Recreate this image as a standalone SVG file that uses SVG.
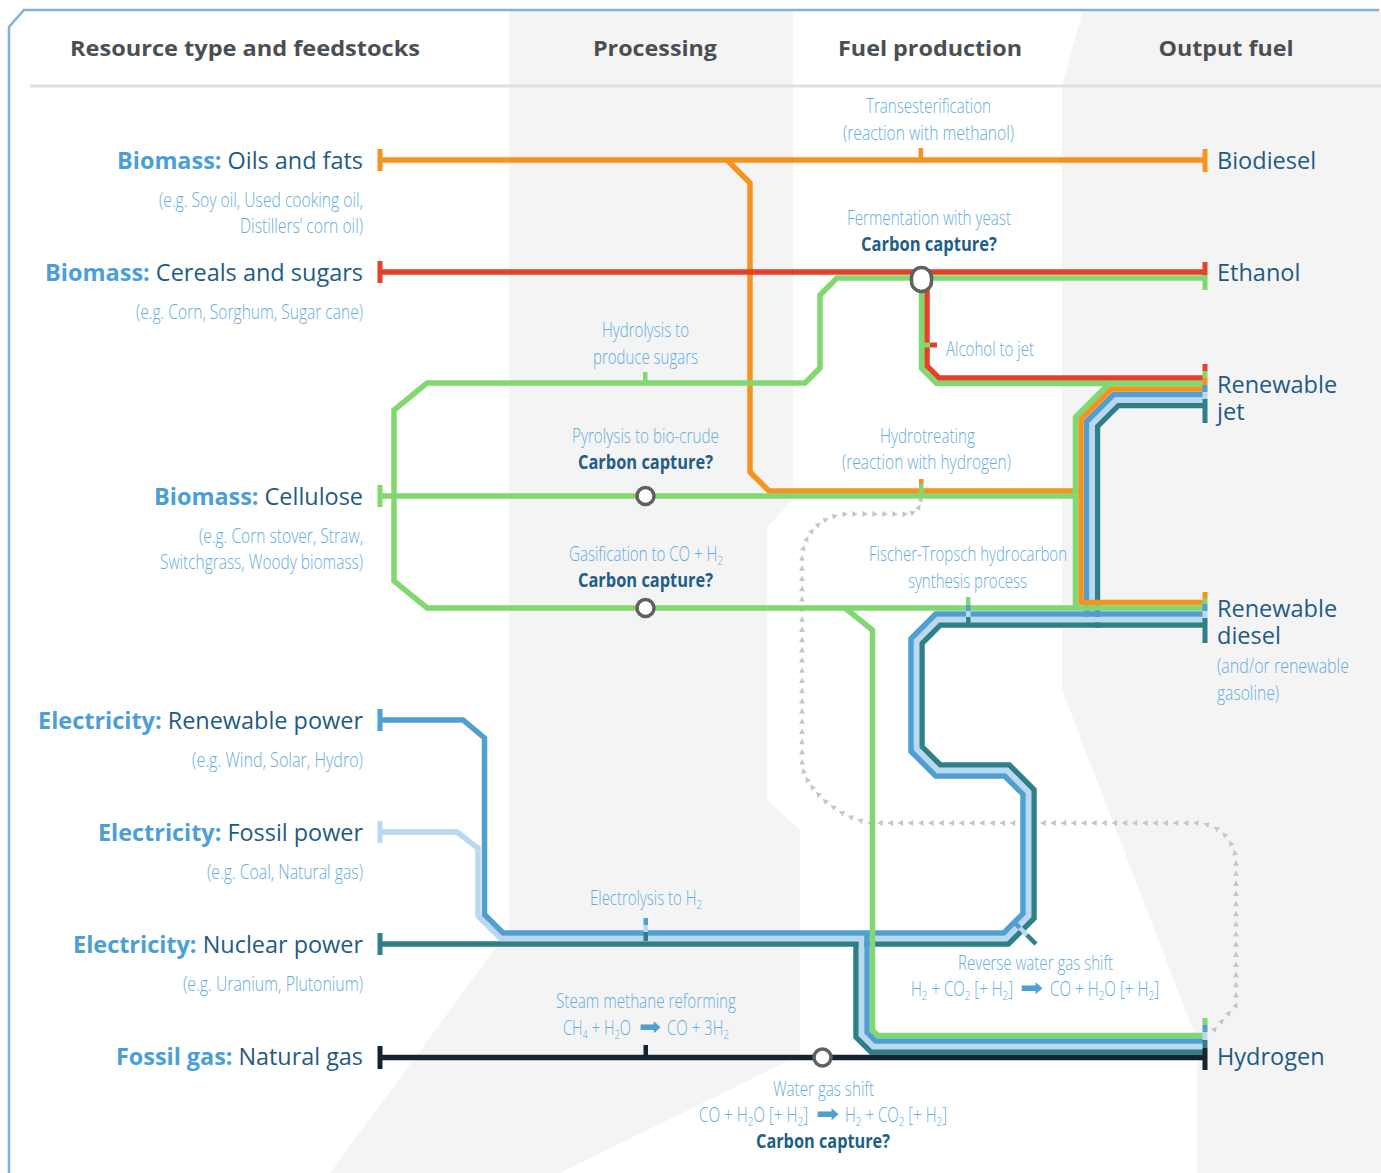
<svg xmlns="http://www.w3.org/2000/svg" width="1381" height="1173" viewBox="0 0 1381 1173">
<defs>
<style>
.band{fill:#f4f4f4}
.ln{fill:none;stroke-width:5.5;stroke-linejoin:miter;stroke-linecap:butt}
.or{stroke:#f6921e}.rd{stroke:#e6402b}.gr{stroke:#82d870}.bl{stroke:#509fd3}.lb{stroke:#bad8ee}.tl{stroke:#2f7f88}.nv{stroke:#15242e}
.fo{fill:#f6921e}.fr{fill:#e6402b}.fg{fill:#82d870}.fb{fill:#509fd3}.fl{fill:#bad8ee}.ft{fill:#2f7f88}.fn{fill:#15242e}
.hd{font-family:'Open Sans','Liberation Sans',sans-serif;font-weight:700;font-size:22px;fill:#4a4f55;text-anchor:middle}
.src{font-family:'Open Sans','Liberation Sans',sans-serif;font-size:23.5px;fill:#1e5b84;text-anchor:end}
.k{font-weight:700;fill:#4aa0d6}
.out{font-family:'Open Sans','Liberation Sans',sans-serif;font-size:23.5px;fill:#1e5b84}
.nt{font-family:'Open Sans','Liberation Sans',sans-serif;font-weight:300;font-size:20px;fill:#64ace0}
.mid{text-anchor:middle}
.end{text-anchor:end}
.cc{font-family:'Open Sans','Liberation Sans',sans-serif;font-weight:700;font-size:20px;fill:#1e5f86;text-anchor:middle}
.sub{font-size:13px}
.ar{font-family:'DejaVu Sans',sans-serif;font-size:24px;fill:#4f9fd3}
.node{fill:#fff;stroke:#616161;stroke-width:3.5}
.dots{fill:none;stroke:none;marker-start:url(#tri);marker-mid:url(#tri);marker-end:url(#tri)}
</style>
<marker id="tri" markerUnits="userSpaceOnUse" markerWidth="8" markerHeight="8" viewBox="-4 -4 8 8" refX="0" refY="0" orient="auto">
<path d="M-2.6,-2.9 L3,0 L-2.6,2.9 Z" fill="#c6c6c6"/>
</marker>
</defs>

<g id="background">
<rect x="0" y="0" width="1381" height="1173" fill="#fff"/>
<path class="band" d="M509,10 H793 V500 L767,527 V800 L800,830 V1055 L560,1173 H330 L509,930 Z"/>
<path class="band" d="M1083,10 H1381 V1173 H1197 V1040 L1062,690 V86 Z"/>
<path d="M9,1173 V27 L24,10 H1379" fill="none" stroke="#7fb3df" stroke-width="2.5"/>
<line x1="30" y1="86" x2="1381" y2="86" stroke="#dde1e4" stroke-width="3"/>
</g>

<g id="headers">
<text class="hd" x="245" y="56" textLength="350" lengthAdjust="spacingAndGlyphs">Resource type and feedstocks</text>
<text class="hd" x="655" y="56" textLength="124" lengthAdjust="spacingAndGlyphs">Processing</text>
<text class="hd" x="930" y="56" textLength="184" lengthAdjust="spacingAndGlyphs">Fuel production</text>
<text class="hd" x="1226" y="56" textLength="135" lengthAdjust="spacingAndGlyphs">Output fuel</text>
</g>

<g id="recycle-h2">
<path class="dots" d="M1215,1029 L1222,1021 L1229,1013 L1236,1005 v-10.14 v-10.14 v-10.14 v-10.14 v-10.14 v-10.14 v-10.14 v-10.14 v-10.14 v-10.14 v-10.14 v-10.14 v-10.14 v-10.14 L1234.6,852.6 L1230.6,843 L1224.3,834.7 L1216,828.4 L1206.4,824.4 L1196,823 h-10.19 h-10.19 h-10.19 h-10.19 h-10.19 h-10.19 h-10.19 h-10.19 h-10.19 h-10.19 h-10.19 h-10.19 h-10.19 h-10.19 h-10.19 h-10.19 h-10.19 h-10.19 h-10.19 h-10.19 h-10.19 h-10.19 h-10.19 h-10.19 h-10.19 h-10.19 h-10.19 h-10.19 h-10.19 h-10.19 h-10.19 h-10.19 L860,820.5 L850.5,817 L841.5,812.5 L833,807 L825,801 L818,794 L812,787 L807,779.5 L803.5,771 L802,762 v-10.2 v-10.2 v-10.2 v-10.2 v-10.2 v-10.2 v-10.2 v-10.2 v-10.2 v-10.2 v-10.2 v-10.2 v-10.2 v-10.2 v-10.2 v-10.2 v-10.2 v-10.2 v-10.2 v-10.2 L803.5,548 L807,539 L812,531 L818.5,524.5 L826,519.5 L835,516 L845,514 h10 h10 h10 h10 h10 h10 L913,512.5 L919,507 L921,499"/>
</g>

<g id="connectors">
<path class="ln tl" d="M380,944 H1008.3 L1034,918.3 V789.7 L1009.3,765 H940.3 L922,746.7 V643.3 L940.3,625 H1205"/>
<path class="ln tl" d="M1097.5,627.75 V426.3 L1118.3,405.5 H1205"/>
<path class="ln tl" d="M856,944 V1037 L871,1052 H1205"/>
<path class="ln lb" d="M380,832 H457 L478,848 V915.8 L500.7,938.5 H1006 L1028.5,916 V792 L1007,770.5 H938 L916.5,749 V641 L938,619.5 H1205"/>
<path class="ln lb" d="M1092,622 V424 L1116,400 H1205"/>
<path class="ln lb" d="M861.5,938.5 V1034.7 L873.3,1046.5 H1205"/>
<path class="ln bl" d="M380,720 H463 L484.5,738 V914.5 L503,933 H1003.7 L1023,913.7 V794.3 L1004.7,776 H935.7 L911,751.3 V638.7 L935.7,614 H1205"/>
<path class="ln bl" d="M1086.5,616.75 V421.7 L1113.7,394.5 H1205"/>
<path class="ln bl" d="M867,933 V1032.4 L875.6,1041 H1205"/>
<path class="ln nv" d="M380,1057.5 H1205"/>
<path class="ln or" d="M380,160 H1205"/>
<path class="ln or" d="M727,160 L750,183 V472 L769,491 H1081"/>
<path class="ln or" d="M1205,389 H1111.4 L1081,419.4 V602.5 H1205"/>
<path class="ln rd" d="M380,272 H1205"/>
<path class="ln rd" d="M927,290 V366 L939,378 H1205"/>
<path class="ln gr" d="M1205,278 H837 L820,295 V368 L805,383 H427 L394,410 V581 L427,608 H1205"/>
<path class="ln gr" d="M380,496 H1075.5"/>
<path class="ln gr" d="M1075.5,610 V417.2 L1109.2,383.5 H1205"/>
<path class="ln gr" d="M845,608 L872.5,630 V1030.2 L877.8,1035.5 H1205"/>
<path class="ln gr" d="M921.5,290 V368.3 L936.7,383.5 H1205"/>
</g>

<g id="ticks">
<rect class="fo" x="377.5" y="149" width="5" height="22"/>
<rect class="fr" x="377.5" y="261" width="5" height="22"/>
<rect class="fg" x="377.5" y="485" width="5" height="22"/>
<rect class="fb" x="377.5" y="709" width="5" height="22"/>
<rect class="fl" x="377.5" y="821" width="5" height="22"/>
<rect class="ft" x="377.5" y="933" width="5" height="22"/>
<rect class="fn" x="377.5" y="1046" width="5" height="23"/>
<rect class="fo" x="1202.5" y="149" width="5" height="23"/>
<rect class="fr" x="1202.5" y="262" width="5" height="13"/>
<rect class="fg" x="1202.5" y="275" width="5" height="15"/>
<rect class="fr" x="1202.5" y="364" width="5" height="7"/>
<rect class="fg" x="1202.5" y="371" width="5" height="7"/>
<rect class="fo" x="1202.5" y="378" width="5" height="7"/>
<rect class="fb" x="1202.5" y="385" width="5" height="7"/>
<rect class="fl" x="1202.5" y="392" width="5" height="7"/>
<rect class="ft" x="1202.5" y="399" width="5" height="24"/>
<rect class="fo" x="1202.5" y="592" width="5" height="6"/>
<rect class="fg" x="1202.5" y="598" width="5" height="6"/>
<rect class="fb" x="1202.5" y="604" width="5" height="7"/>
<rect class="fl" x="1202.5" y="611" width="5" height="7"/>
<rect class="ft" x="1202.5" y="618" width="5" height="25"/>
<rect class="fg" x="1202.5" y="1018" width="5" height="7"/>
<rect class="fb" x="1202.5" y="1025" width="5" height="7"/>
<rect class="fl" x="1202.5" y="1032" width="5" height="8"/>
<rect class="ft" x="1202.5" y="1040" width="5" height="8"/>
<rect class="fn" x="1202.5" y="1048" width="5" height="22"/>
<rect class="fo" x="918.5" y="148" width="4.5" height="10"/>
<rect class="fg" x="643" y="372" width="4.5" height="9"/>
<rect class="fo" x="919" y="479" width="4.5" height="5"/>
<rect class="fg" x="919" y="484" width="4.5" height="9"/>
<rect class="fg" x="923" y="342.5" width="7" height="5"/>
<rect class="fr" x="930" y="342.5" width="7" height="5"/>
<rect class="fg" x="966" y="597" width="4.5" height="8"/>
<rect class="fb" x="966" y="605" width="4.5" height="6"/>
<rect class="fl" x="966" y="611" width="4.5" height="6"/>
<rect class="ft" x="966" y="617" width="4.5" height="7"/>
<rect class="fb" x="643.5" y="918" width="4.5" height="7"/>
<rect class="fl" x="643.5" y="925" width="4.5" height="7"/>
<rect class="ft" x="643.5" y="932" width="4.5" height="9"/>
<rect class="fn" x="643.5" y="1045" width="4.5" height="10"/>
<line x1="1013" y1="921" x2="1020" y2="928" stroke="#509fd3" stroke-width="4.5"/>
<line x1="1020" y1="928" x2="1027" y2="935" stroke="#bad8ee" stroke-width="4.5"/>
<line x1="1027" y1="935" x2="1036" y2="944" stroke="#2f7f88" stroke-width="4.5"/>
</g>

<g id="node-fermentation"><rect class="node" x="911.5" y="267.5" width="20" height="24" rx="10"/></g>
<g id="node-pyrolysis"><circle class="node" cx="645.5" cy="496" r="8.5"/></g>
<g id="node-gasification"><circle class="node" cx="645.5" cy="608" r="8.5"/></g>
<g id="node-watergasshift"><circle class="node" cx="822.5" cy="1057.5" r="8.5"/></g>

<g id="sources">
<text class="src" x="363" y="169" textLength="246" lengthAdjust="spacingAndGlyphs"><tspan class="k">Biomass:</tspan> Oils and fats</text>
<text class="nt end" x="363" y="207" textLength="204" lengthAdjust="spacingAndGlyphs">(e.g. Soy oil, Used cooking oil,</text>
<text class="nt end" x="363" y="233" textLength="123" lengthAdjust="spacingAndGlyphs">Distillers’ corn oil)</text>
<text class="src" x="363" y="281" textLength="318" lengthAdjust="spacingAndGlyphs"><tspan class="k">Biomass:</tspan> Cereals and sugars</text>
<text class="nt end" x="363" y="319" textLength="227" lengthAdjust="spacingAndGlyphs">(e.g. Corn, Sorghum, Sugar cane)</text>
<text class="src" x="363" y="505" textLength="209" lengthAdjust="spacingAndGlyphs"><tspan class="k">Biomass:</tspan> Cellulose</text>
<text class="nt end" x="363" y="543" textLength="164" lengthAdjust="spacingAndGlyphs">(e.g. Corn stover, Straw,</text>
<text class="nt end" x="363" y="569" textLength="203" lengthAdjust="spacingAndGlyphs">Switchgrass, Woody biomass)</text>
<text class="src" x="363" y="729" textLength="325" lengthAdjust="spacingAndGlyphs"><tspan class="k">Electricity:</tspan> Renewable power</text>
<text class="nt end" x="363" y="767" textLength="171" lengthAdjust="spacingAndGlyphs">(e.g. Wind, Solar, Hydro)</text>
<text class="src" x="363" y="841" textLength="265" lengthAdjust="spacingAndGlyphs"><tspan class="k">Electricity:</tspan> Fossil power</text>
<text class="nt end" x="363" y="879" textLength="156" lengthAdjust="spacingAndGlyphs">(e.g. Coal, Natural gas)</text>
<text class="src" x="363" y="953" textLength="290" lengthAdjust="spacingAndGlyphs"><tspan class="k">Electricity:</tspan> Nuclear power</text>
<text class="nt end" x="363" y="991" textLength="180" lengthAdjust="spacingAndGlyphs">(e.g. Uranium, Plutonium)</text>
<text class="src" x="363" y="1065" textLength="247" lengthAdjust="spacingAndGlyphs"><tspan class="k">Fossil gas:</tspan> Natural gas</text>
</g>

<g id="outputs">
<text class="out" x="1217" y="169">Biodiesel</text>
<text class="out" x="1217" y="281">Ethanol</text>
<text class="out" x="1217" y="393">Renewable</text>
<text class="out" x="1217" y="420">jet</text>
<text class="out" x="1217" y="617">Renewable</text>
<text class="out" x="1217" y="644">diesel</text>
<text class="nt" x="1217" y="673" textLength="132" lengthAdjust="spacingAndGlyphs">(and/or renewable</text>
<text class="nt" x="1217" y="700" textLength="62" lengthAdjust="spacingAndGlyphs">gasoline)</text>
<text class="out" x="1217" y="1065">Hydrogen</text>
</g>

<g id="process-labels">
<text class="nt mid" x="928.5" y="113" textLength="125" lengthAdjust="spacingAndGlyphs">Transesterification</text>
<text class="nt mid" x="928.5" y="140" textLength="171" lengthAdjust="spacingAndGlyphs">(reaction with methanol)</text>
<text class="nt mid" x="929" y="225" textLength="164" lengthAdjust="spacingAndGlyphs">Fermentation with yeast</text>
<text class="cc" x="929" y="251" textLength="136" lengthAdjust="spacingAndGlyphs">Carbon capture?</text>
<text class="nt" x="946" y="356" textLength="88" lengthAdjust="spacingAndGlyphs">Alcohol to jet</text>
<text class="nt mid" x="645.5" y="337" textLength="87" lengthAdjust="spacingAndGlyphs">Hydrolysis to</text>
<text class="nt mid" x="645.5" y="364" textLength="105" lengthAdjust="spacingAndGlyphs">produce sugars</text>
<text class="nt mid" x="645.5" y="443" textLength="147" lengthAdjust="spacingAndGlyphs">Pyrolysis to bio-crude</text>
<text class="cc" x="645.5" y="469" textLength="135" lengthAdjust="spacingAndGlyphs">Carbon capture?</text>
<text class="nt mid" x="927.5" y="443" textLength="95" lengthAdjust="spacingAndGlyphs">Hydrotreating</text>
<text class="nt mid" x="926.5" y="469" textLength="169" lengthAdjust="spacingAndGlyphs">(reaction with hydrogen)</text>
<text class="nt" x="569" y="561" textLength="154" lengthAdjust="spacingAndGlyphs">Gasification to CO + H<tspan class="sub" dy="4">2</tspan></text>
<text class="cc" x="645.5" y="587" textLength="135" lengthAdjust="spacingAndGlyphs">Carbon capture?</text>
<text class="nt mid" x="968" y="561" textLength="198" lengthAdjust="spacingAndGlyphs">Fischer-Tropsch hydrocarbon</text>
<text class="nt mid" x="967.5" y="588" textLength="119" lengthAdjust="spacingAndGlyphs">synthesis process</text>
<text class="nt" x="590" y="905" textLength="112" lengthAdjust="spacingAndGlyphs">Electrolysis to H<tspan class="sub" dy="4">2</tspan></text>
<text class="nt mid" x="1035.5" y="970" textLength="155" lengthAdjust="spacingAndGlyphs">Reverse water gas shift</text>
<text class="nt" x="911" y="996" textLength="102" lengthAdjust="spacingAndGlyphs">H<tspan class="sub" dy="4">2</tspan><tspan dy="-4"> + CO</tspan><tspan class="sub" dy="4">2</tspan><tspan dy="-4"> [+ H</tspan><tspan class="sub" dy="4">2</tspan><tspan dy="-4">]</tspan></text>
<text class="ar" x="1020" y="996" textLength="23" lengthAdjust="spacingAndGlyphs">➡</text>
<text class="nt" x="1050" y="996" textLength="109" lengthAdjust="spacingAndGlyphs">CO + H<tspan class="sub" dy="4">2</tspan><tspan dy="-4">O [+ H</tspan><tspan class="sub" dy="4">2</tspan><tspan dy="-4">]</tspan></text>
<text class="nt mid" x="646" y="1008" textLength="180" lengthAdjust="spacingAndGlyphs">Steam methane reforming</text>
<text class="nt" x="563" y="1035" textLength="68" lengthAdjust="spacingAndGlyphs">CH<tspan class="sub" dy="4">4</tspan><tspan dy="-4"> + H</tspan><tspan class="sub" dy="4">2</tspan><tspan dy="-4">O</tspan></text>
<text class="ar" x="639" y="1035" textLength="22" lengthAdjust="spacingAndGlyphs">➡</text>
<text class="nt" x="667" y="1035" textLength="62" lengthAdjust="spacingAndGlyphs">CO + 3H<tspan class="sub" dy="4">2</tspan></text>
<text class="nt mid" x="823.5" y="1096" textLength="101" lengthAdjust="spacingAndGlyphs">Water gas shift</text>
<text class="nt" x="699" y="1122" textLength="109" lengthAdjust="spacingAndGlyphs">CO + H<tspan class="sub" dy="4">2</tspan><tspan dy="-4">O [+ H</tspan><tspan class="sub" dy="4">2</tspan><tspan dy="-4">]</tspan></text>
<text class="ar" x="816" y="1122" textLength="23" lengthAdjust="spacingAndGlyphs">➡</text>
<text class="nt" x="845" y="1122" textLength="102" lengthAdjust="spacingAndGlyphs">H<tspan class="sub" dy="4">2</tspan><tspan dy="-4"> + CO</tspan><tspan class="sub" dy="4">2</tspan><tspan dy="-4"> [+ H</tspan><tspan class="sub" dy="4">2</tspan><tspan dy="-4">]</tspan></text>
<text class="cc" x="823" y="1148" textLength="134" lengthAdjust="spacingAndGlyphs">Carbon capture?</text>
</g>
</svg>
